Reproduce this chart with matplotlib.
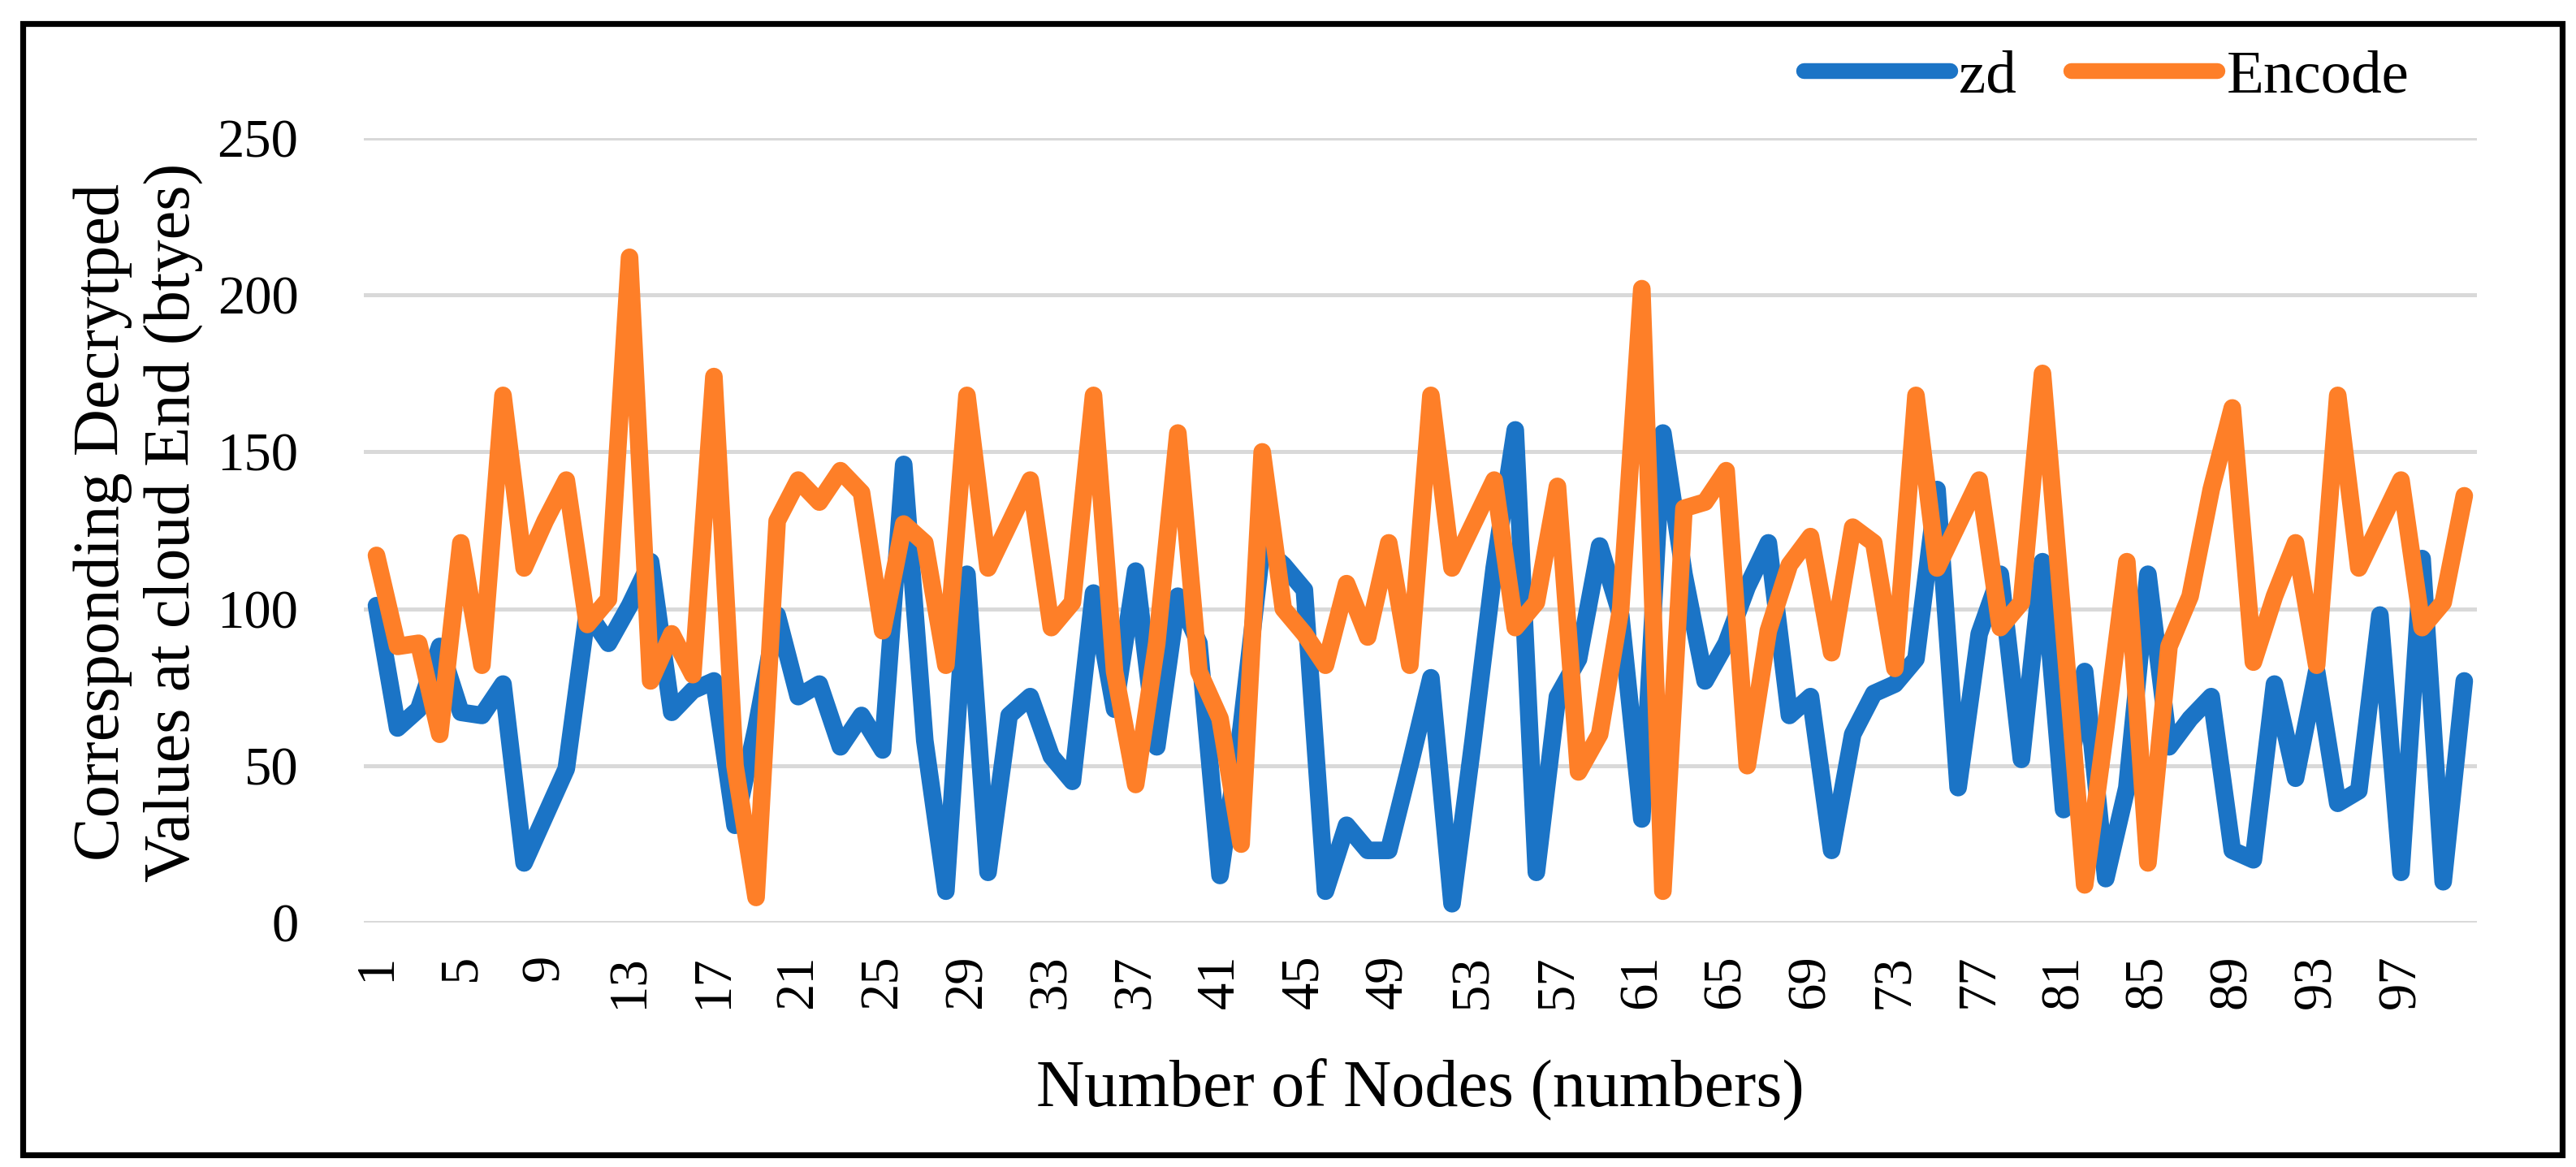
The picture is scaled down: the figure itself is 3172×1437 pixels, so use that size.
import matplotlib
matplotlib.use('Agg')
import matplotlib.pyplot as plt
from matplotlib.patches import Rectangle

# values (nodes 1..100)
nodes = list(range(1, 101))
zd = [101, 62, 68, 88, 67, 66, 76, 19, 34, 49,
      99, 89, 101, 115, 67, 74, 77, 31, 62, 98,
      72, 76, 56, 66, 55, 146, 58, 10, 111, 16,
      66, 72, 53, 45, 105, 68, 112, 56, 104, 89,
      15, 62, 120, 114, 106, 10, 31, 23, 23, 50,
      78, 6, 58, 113, 157, 16, 72, 84, 120, 98,
      33, 156, 111, 77, 89, 107, 121, 66, 72, 23,
      60, 73, 76, 84, 138, 43, 92, 111, 52, 115,
      36, 80, 14, 43, 111, 56, 65, 72, 23, 20,
      76, 46, 80, 38, 42, 98, 16, 116, 13, 77]
encode = [117, 88, 89, 60, 121, 82, 168, 113, 128, 141,
          95, 103, 212, 77, 92, 79, 174, 50, 8, 128,
          141, 134, 144, 137, 93, 127, 121, 82, 168, 113,
          127, 141, 94, 102, 168, 80, 44, 89, 156, 80,
          65, 25, 150, 100, 92, 82, 108, 91, 121, 82,
          168, 113, 127, 141, 94, 102, 139, 48, 60, 100,
          202, 10, 132, 134, 144, 50, 93, 114, 123, 86,
          126, 121, 81, 168, 113, 127, 141, 94, 102, 175,
          94, 12, 62, 115, 19, 88, 104, 138, 164, 83,
          104, 121, 82, 168, 113, 127, 141, 94, 102, 136]
x_ticks = list(range(1, 101, 4))
y_ticks = [0, 50, 100, 150, 200, 250]

plt.rcParams['font.family'] = ['Liberation Serif', 'DejaVu Serif']

W, H = 3172, 1437
fig = plt.figure(figsize=(W / 200, H / 200), dpi=200)
ax = fig.add_axes([448 / W, 1 - 1136 / H, (3050 - 448) / W, (1136 - 170) / H])

ax.plot(nodes, zd, color='#1b74c6', lw=7.8, solid_joinstyle='round',
        solid_capstyle='round', label='zd', zorder=3)
ax.plot(nodes, encode, color='#fe7f28', lw=7.8, solid_joinstyle='round',
        solid_capstyle='round', label='Encode', zorder=4)

ax.set_xlim(0.4, 100.6)
ax.set_ylim(0, 250)
ax.set_yticks(y_ticks)
ax.set_xticks(x_ticks)
ax.set_xticklabels([str(t) for t in x_ticks], rotation=90)
ax.tick_params(axis='both', length=0, labelsize=24)
ax.tick_params(axis='y', pad=29)
ax.tick_params(axis='x', pad=14)
ax.grid(axis='y', color='#d9d9d9', lw=1.8)
ax.set_axisbelow(True)
for s in ax.spines.values():
    s.set_visible(False)

ax.set_xlabel('Number of Nodes (numbers)', fontsize=29.5, labelpad=22)
ax.set_ylabel('Corresponding Decrytped\nValues at cloud End (btyes)',
              fontsize=29, linespacing=1.25)
ax.yaxis.set_label_coords((250 - 448) / 2602, 0.51)

leg = fig.legend(loc='center right', bbox_to_anchor=(0.947, 0.934), ncol=2,
                 frameon=False, fontsize=27, handlelength=2.4,
                 handletextpad=0.15, columnspacing=0.9, borderpad=0)
for line in leg.get_lines():
    line.set_linewidth(7.0)
    line.set_solid_capstyle('round')

# black frame around the whole figure
fig.patches.append(Rectangle((28 / W, 1 - 1422 / H), (3155 - 28) / W,
                             (1422 - 29) / H, transform=fig.transFigure,
                             fill=False, edgecolor='black', lw=2.6))

fig.savefig('out.png', dpi=200)
